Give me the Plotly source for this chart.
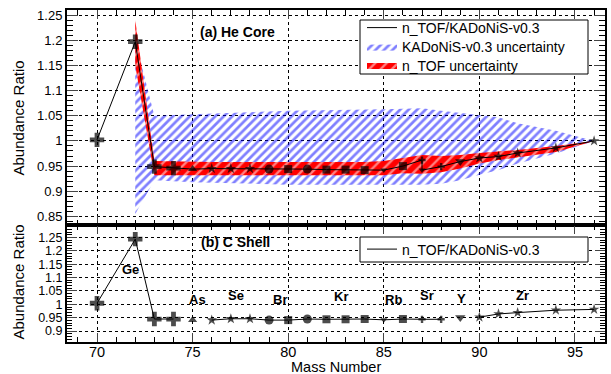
import plotly.graph_objects as go

# ---------------- data ----------------
top_mass = [70, 72, 73, 74, 75, 76, 77, 78, 79, 80, 81, 82, 83, 84, 85, 86, 87, 87, 88, 89, 90, 91, 92, 94, 96]
top_ratio = [1.002, 1.197, 0.949, 0.946, 0.944, 0.945, 0.945, 0.945, 0.944, 0.944, 0.944, 0.943, 0.943, 0.942,
             0.942, 0.950, 0.962, 0.942, 0.949, 0.959, 0.966, 0.969, 0.976, 0.986, 1.000]
top_kind = ["Ge", "Ge", "Ge", "Ge", "As", "Se", "Se", "Se", "Br", "Kr", "Br", "Kr", "Kr", "Kr",
            "Rb", "Kr", "Sr", "Rb", "Sr", "Y", "Zr", "Zr", "Zr", "Zr", "Zr"]

bot_mass = [70, 72, 73, 74, 75, 76, 77, 78, 79, 80, 81, 82, 83, 84, 85, 86, 87, 88, 89, 90, 91, 92, 94, 96]
bot_ratio = [1.004, 1.244, 0.945, 0.945, 0.941, 0.941, 0.946, 0.946, 0.941, 0.941, 0.945, 0.944, 0.944, 0.945,
             0.942, 0.945, 0.944, 0.944, 0.951, 0.952, 0.964, 0.969, 0.978, 0.981]
bot_kind = ["Ge", "Ge", "Ge", "Ge", "As", "Se", "Se", "Se", "Br", "Kr", "Br", "Kr", "Kr", "Kr",
            "Rb", "Kr", "Sr", "Sr", "Y", "Zr", "Zr", "Zr", "Zr", "Zr"]
bot_segments = [(70, 74), (75, 75), (76, 88), (89, 89), (90, 96)]

kad_x = [72, 73, 75, 80, 85, 87, 88, 89, 90, 91, 92, 94, 96]
kad_upper = [1.200, 1.050, 1.053, 1.060, 1.063, 1.065, 1.060, 1.056, 1.052, 1.047, 1.035, 1.020, 1.000]
kad_lower = [0.855, 0.922, 0.918, 0.913, 0.913, 0.913, 0.915, 0.922, 0.933, 0.942, 0.955, 0.975, 1.000]

ntof_x = [72, 73, 76, 80, 84, 85, 86, 87, 88, 89, 90, 91, 92, 94, 96]
ntof_upper = [1.240, 0.960, 0.958, 0.958, 0.958, 0.960, 0.966, 0.972, 0.970, 0.972, 0.976, 0.979, 0.982, 0.990, 1.000]
ntof_lower = [1.150, 0.932, 0.932, 0.932, 0.932, 0.932, 0.936, 0.935, 0.938, 0.945, 0.955, 0.962, 0.968, 0.978, 1.000]

element_labels = ["Ge", "As", "Se", "Br", "Kr", "Rb", "Sr", "Y", "Zr"]
element_label_x = [71.73, 75.26, 77.25, 79.57, 82.74, 85.5, 87.28, 89.04, 92.26]
element_label_y = [1.13, 1.017, 1.032, 1.017, 1.03, 1.017, 1.032, 1.02, 1.032]

# ---------------- styles ----------------
FONT = "Liberation Sans, Arial, Helvetica, sans-serif"
sym = {"Ge": ("cross", 12), "As": ("triangle-up", 8), "Se": ("star", 8), "Br": ("circle", 9),
       "Kr": ("square", 8), "Rb": ("triangle-down", 6), "Sr": ("cross", 6), "Y": ("triangle-down", 9),
       "Zr": ("star", 8)}

L = 67.0   # plot left px
R = 605.0  # plot right px
T = 10.0   # plot top px
B = 342.0  # plot bottom px
PW = R - L
PH = B - T


def px_x(px):
    return (px - L) / PW


def px_y(py):
    return (B - py) / PH


fig = go.Figure()

# KADoNiS uncertainty band
fig.add_trace(go.Scatter(
    x=kad_x + kad_x[::-1], y=kad_upper + kad_lower[::-1],
    fill="toself", mode="lines", line=dict(width=0, color="rgba(0,0,255,0)"),
    fillcolor="rgba(0,0,0,0)",
    fillpattern=dict(shape="/", fgcolor="#0000ff", size=6, solidity=0.45),
    name="KADoNiS-v0.3 uncertainty", legend="legend3",
    xaxis="x", yaxis="y", hoverinfo="skip"))

# n_TOF uncertainty band
fig.add_trace(go.Scatter(
    x=ntof_x + ntof_x[::-1], y=ntof_upper + ntof_lower[::-1],
    fill="toself", mode="lines", line=dict(width=0, color="rgba(255,0,0,0)"),
    fillcolor="#ff0000",
    fillpattern=dict(shape="/", fgcolor="#ffffff", bgcolor="#ff0000", size=8, solidity=0.3),
    name="n_TOF uncertainty", legend="legend4",
    xaxis="x", yaxis="y", hoverinfo="skip"))

# top ratio line
fig.add_trace(go.Scatter(
    x=top_mass, y=top_ratio, mode="lines", line=dict(color="black", width=1),
    name="n_TOF/KADoNiS-v0.3", legend="legend", xaxis="x", yaxis="y"))
fig.add_trace(go.Scatter(
    x=top_mass, y=top_ratio, mode="markers", showlegend=False,
    marker=dict(symbol=[sym[k][0] for k in top_kind], size=[sym[k][1] for k in top_kind],
                color="black", line=dict(width=0)),
    xaxis="x", yaxis="y"))

# bottom ratio line (segmented by element groups)
lx, ly = [], []
for lo, hi in bot_segments:
    for m, r in zip(bot_mass, bot_ratio):
        if lo <= m <= hi:
            lx.append(m)
            ly.append(r)
    lx.append(None)
    ly.append(None)
fig.add_trace(go.Scatter(
    x=lx, y=ly, mode="lines", line=dict(color="black", width=1), connectgaps=False,
    name="n_TOF/KADoNiS-v0.3", legend="legend2", xaxis="x2", yaxis="y2"))
fig.add_trace(go.Scatter(
    x=bot_mass, y=bot_ratio, mode="markers", showlegend=False,
    marker=dict(symbol=[sym[k][0] for k in bot_kind], size=[sym[k][1] for k in bot_kind],
                color="black", line=dict(width=0)),
    xaxis="x2", yaxis="y2"))

# ---------------- layout ----------------
split = 117 / 332
xcommon = dict(range=[68.43, 96.57], dtick=5, tick0=70, ticks="inside", ticklen=9, tickwidth=1,
               showline=True, linewidth=2, linecolor="black", mirror="allticks", automargin=False,
               showgrid=True, gridcolor="black", griddash="dot", gridwidth=1, zeroline=False,
               minor=dict(dtick=1, ticks="inside", ticklen=5, tickcolor="black", showgrid=False),
               tickfont=dict(family=FONT, size=14.5, color="black"))
ycommon = dict(dtick=0.05, ticks="inside", ticklen=11, tickwidth=1, automargin=False,
               showline=True, linewidth=2, linecolor="black", mirror="allticks",
               showgrid=True, gridcolor="black", griddash="dot", gridwidth=1, zeroline=False,
               minor=dict(dtick=0.01, ticks="inside", ticklen=6, tickcolor="black", showgrid=False),
               tickfont=dict(family=FONT, size=13, color="black"))


def leg(py_center):
    return dict(x=px_x(362), y=px_y(py_center), xanchor="left", yanchor="middle",
                bgcolor="rgba(0,0,0,0)", borderwidth=0, font=dict(family=FONT, size=14, color="black"))


fig.update_layout(
    width=611, height=374,
    margin=dict(l=67, r=6, t=10, b=32, autoexpand=False),
    paper_bgcolor="white", plot_bgcolor="white",
    font=dict(family=FONT, color="black"),
    xaxis=dict(xcommon, anchor="y", showticklabels=False, matches="x2"),
    yaxis=dict(ycommon, domain=[split, 1], range=[0.833, 1.26], tick0=0.85),
    xaxis2=dict(xcommon, anchor="y2", ticklabelstandoff=-4),
    yaxis2=dict(ycommon, domain=[0, split], range=[0.859, 1.297], tick0=0.9, ticklen=10,
                tickfont=dict(family=FONT, size=12.5, color="black"),
                minor=dict(dtick=0.01, ticks="inside", ticklen=5, tickcolor="black", showgrid=False)),
    legend=leg(28),
    legend3=leg(47),
    legend4=leg(65.5),
    legend2=leg(249.5),
    showlegend=True,
)

# legend frames
fig.add_shape(type="rect", xref="paper", yref="paper", layer="above",
              x0=px_x(360), x1=px_x(588), y0=px_y(74), y1=px_y(20),
              line=dict(color="black", width=1), fillcolor="white")
fig.add_shape(type="rect", xref="paper", yref="paper", layer="above",
              x0=px_x(360), x1=px_x(588), y0=px_y(262), y1=px_y(237),
              line=dict(color="black", width=1), fillcolor="white")
# thick separator
fig.add_shape(type="line", xref="paper", yref="paper", x0=0, x1=1, y0=split, y1=split,
              line=dict(color="black", width=2))

ann = []
ann.append(dict(text="<b>(a) He Core</b>", x=77.35, y=1.216, xref="x", yref="y", showarrow=False,
                font=dict(family=FONT, size=14, color="black")))
ann.append(dict(text="<b>(b) C Shell</b>", x=77.22, y=1.232, xref="x2", yref="y2", showarrow=False,
                font=dict(family=FONT, size=14, color="black")))
for t, x, y in zip(element_labels, element_label_x, element_label_y):
    ann.append(dict(text="<b>%s</b>" % t, x=x, y=y, xref="x2", yref="y2", showarrow=False,
                    font=dict(family=FONT, size=13, color="black")))
ann.append(dict(text="Abundance Ratio", textangle=-90, x=px_x(17.5), y=px_y(118),
                xref="paper", yref="paper", showarrow=False, xanchor="center", yanchor="middle",
                font=dict(family=FONT, size=15, color="black")))
ann.append(dict(text="Abundance Ratio", textangle=-90, x=px_x(17.5), y=px_y(282),
                xref="paper", yref="paper", showarrow=False, xanchor="center", yanchor="middle",
                font=dict(family=FONT, size=15, color="black")))
ann.append(dict(text="Mass Number", x=px_x(336), y=px_y(366.5), xref="paper", yref="paper",
                showarrow=False, xanchor="center", yanchor="middle",
                font=dict(family=FONT, size=14.5, color="black")))
fig.update_layout(annotations=ann)

fig.write_html("out.html", config={"displayModeBar": False},
               post_script="document.body.style.margin='0';document.body.style.overflow='hidden';")
